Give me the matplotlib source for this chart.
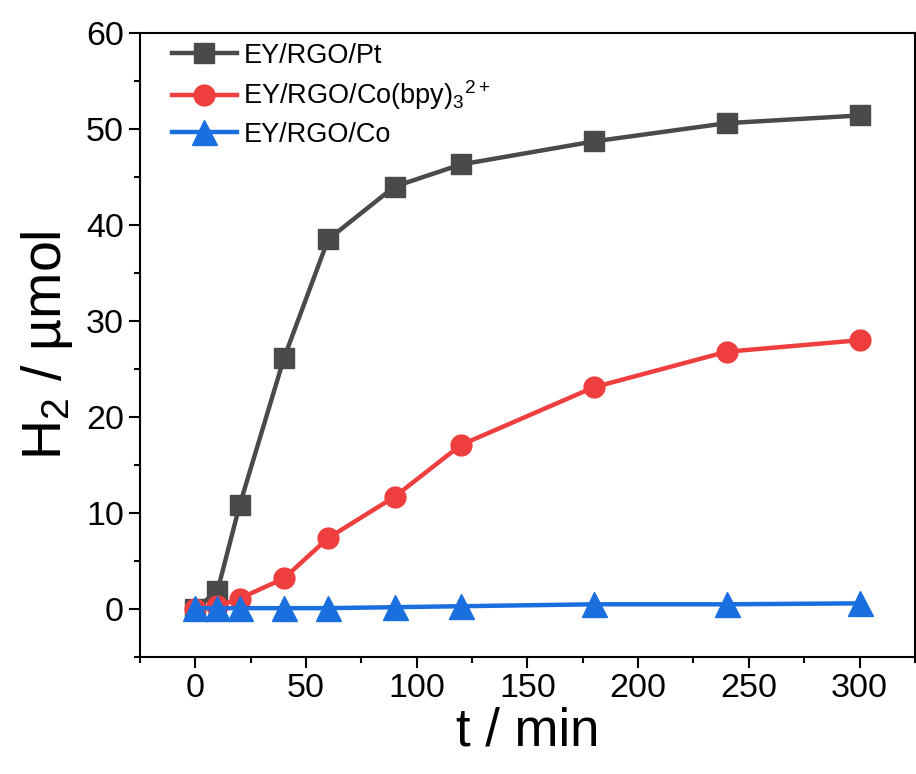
import matplotlib
matplotlib.use('Agg')
import matplotlib.pyplot as plt
from matplotlib.ticker import MultipleLocator

plt.rcParams['font.family'] = ['Liberation Sans', 'DejaVu Sans']
plt.rcParams['mathtext.fontset'] = 'custom'
plt.rcParams['mathtext.rm'] = 'Liberation Sans'
plt.rcParams['mathtext.it'] = 'Liberation Sans:italic'

# data
t = [0, 10, 20, 40, 60, 90, 120, 180, 240, 300]
h2_pt = [0.0, 1.9, 10.8, 26.1, 38.5, 44.0, 46.3, 48.7, 50.6, 51.4]
h2_cobpy = [0.0, 0.3, 1.1, 3.2, 7.4, 11.7, 17.1, 23.1, 26.8, 28.0]
h2_co = [0.1, 0.1, 0.1, 0.1, 0.1, 0.2, 0.3, 0.5, 0.5, 0.6]

fig = plt.figure(figsize=(9.16, 7.74), dpi=100)
ax = fig.add_axes([0.1528, 0.151, 0.846, 0.8065])

ax.plot(t, h2_pt, '-s', color='#4a4a4a', lw=3.2, ms=14, label='EY/RGO/Pt')
ax.plot(t, h2_cobpy, '-o', color='#ef3e3e', lw=3.2, ms=15, label='EY/RGO/Co(bpy)$_3$$^{2+}$')
ax.plot(t, h2_co, '-^', color='#1a6fdf', lw=3.2, ms=18, label='EY/RGO/Co')

ax.set_xlim(-25, 325)
ax.set_ylim(-5, 60)
ax.xaxis.set_major_locator(MultipleLocator(50))
ax.xaxis.set_minor_locator(MultipleLocator(25))
ax.yaxis.set_major_locator(MultipleLocator(10))
ax.yaxis.set_minor_locator(MultipleLocator(5))
ax.tick_params(which='major', direction='out', length=8, width=1.5, labelsize=24.5)
ax.tick_params(which='minor', direction='out', length=4, width=1.5)
for s in ax.spines.values():
    s.set_linewidth(1.5)

ax.set_xlabel('t / min', fontsize=38, labelpad=2)
ax.set_ylabel('H$_2$ / µmol', fontsize=40, labelpad=8)

ax.legend(loc='upper left', frameon=False, fontsize=19.5, handlelength=2.4,
          borderaxespad=0.4, borderpad=0.2, labelspacing=0.35, handletextpad=0.25,
          bbox_to_anchor=(0.02, 1.01))

fig.savefig('out.png', dpi=100)
